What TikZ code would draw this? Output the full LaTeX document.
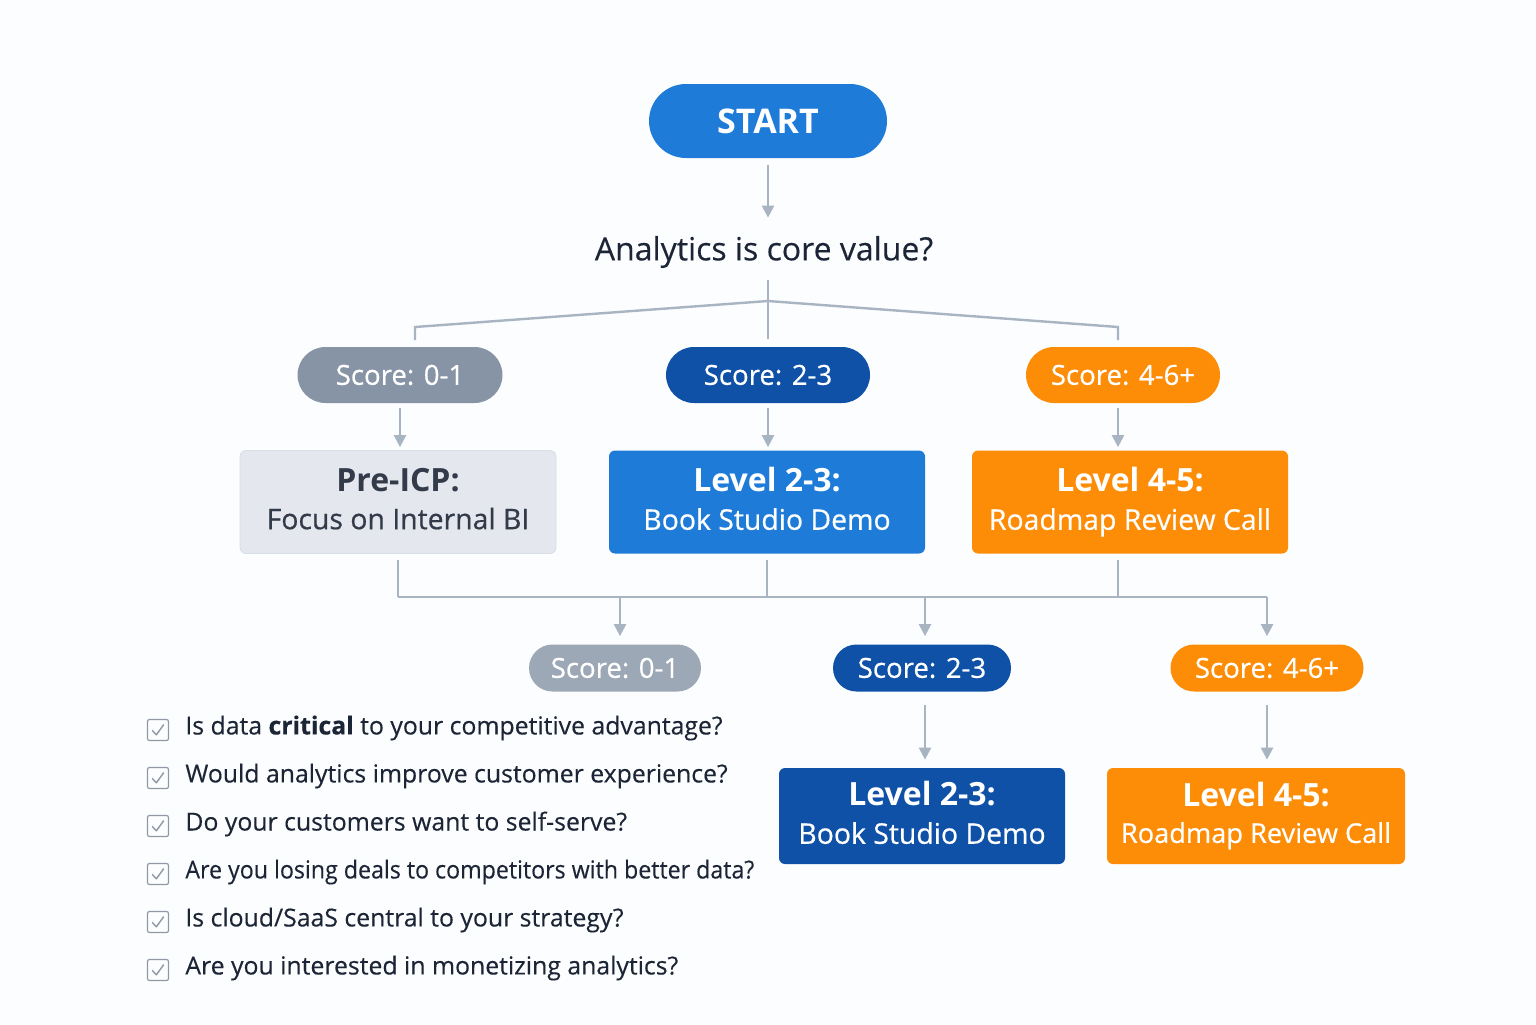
\documentclass[tikz,border=0pt]{standalone}
\usepackage{fontspec}
\setmainfont{Open Sans}
\newfontfamily\medfont[FakeBold=0.6]{Open Sans}
\newfontfamily\lightmed[FakeBold=0.3]{Open Sans}
\usetikzlibrary{arrows.meta,positioning,calc}

\definecolor{ink}{HTML}{1C2536}
\definecolor{bgc}{HTML}{FCFDFE}
\definecolor{lnc}{HTML}{A9B4C2}
\definecolor{bluec}{HTML}{1E7BD8}
\definecolor{navyc}{HTML}{0E51A7}
\definecolor{orgc}{HTML}{FD8C06}
\definecolor{grayc}{HTML}{8694A6}
\definecolor{lgrayc}{HTML}{9DA8B7}
\definecolor{palec}{HTML}{E4E8EE}
\definecolor{chkc}{HTML}{8E98A6}
\newcommand\hdfont{\fontsize{16}{19}\selectfont\bfseries}
\newcommand\subl[1]{\medfont #1\vphantom{gp}}

\begin{document}
\begin{tikzpicture}[x=0.5pt, y=-0.5pt, >={Triangle[length=6pt,width=6pt]},
    ln/.style={draw=lnc, line width=1.2pt},
    pill/.style={rounded corners=14pt, minimum height=28pt, text=white, inner sep=0pt,
      font=\fontsize{13.8}{16}\medfont},
    spill/.style={pill, rounded corners=11.75pt, minimum height=23.5pt},
    b/.style={rounded corners=3pt, align=center, minimum height=51.5pt, minimum width=158pt,
      inner sep=0pt, text=white, font=\fontsize{14.2}{19}\selectfont},
    chk/.style={draw=chkc, line width=0.6pt, rounded corners=1pt, minimum size=10.5pt, inner sep=0pt},
    item/.style={anchor=west, text=ink, inner sep=0pt, font=\fontsize{12.4}{14}\lightmed}]
  \useasboundingbox[fill=bgc] (0,0) rectangle (1536,1024);

  % start and question
  \node[pill, fill=bluec, minimum width=119pt, minimum height=37pt, rounded corners=18.5pt,
    font=\fontsize{17}{20}\selectfont\bfseries] (start) at (768,121) {START};
  \node[text=ink, font=\fontsize{16}{19}\lightmed, inner sep=0pt] (q) at (764,252) {Analytics is core value?};
  \draw[ln, ->, shorten <=3.5pt, shorten >=9pt] (start) -- (start |- q.north);

  % first scores
  \node[pill, fill=grayc, minimum width=102.5pt] (s1) at (400,375) {Score: 0-1};
  \node[pill, fill=navyc, minimum width=102pt] (s2) at (768,375) {Score: 2-3};
  \node[pill, fill=orgc, minimum width=97pt] (s3) at (1123,375) {Score: 4-6+};

  \coordinate (j0) at (768,301);
  \coordinate (jl) at (415,327);
  \coordinate (jr) at (1118,327);
  \draw[ln, shorten <=6pt, shorten >=4pt] (s2 |- q.south) -- (s2);
  \draw[ln] (j0) -- (jl) -- ++(0,13);
  \draw[ln] (j0) -- (jr) -- ++(0,13);

  % level boxes
  \node[b, fill=palec, draw=palec!80!lnc, text=ink!90] (b1) at (398,502)
    {{\hdfont Pre-ICP:}\\\subl{Focus on Internal BI}};
  \node[b, fill=bluec] (b2) at (767,502) {{\hdfont Level 2-3:}\\\subl{Book Studio Demo}};
  \node[b, fill=orgc] (b3) at (1130,502) {{\hdfont Level 4-5:}\\\subl{Roadmap Review Call}};
  \draw[ln, ->, shorten <=2.5pt, shorten >=1.5pt] (s1.south) -- (s1.south |- b1.north);
  \draw[ln, ->, shorten <=2.5pt, shorten >=1.5pt] (s2.south) -- (s2.south |- b2.north);
  \draw[ln, ->, shorten <=2.5pt, shorten >=1.5pt] ([xshift=-2.5pt]s3.south) -- ([xshift=-2.5pt]s3.south |- b3.north);

  % second scores
  \node[spill, fill=lgrayc, minimum width=86pt] (t1) at (615,668) {Score: 0-1};
  \node[spill, fill=navyc, minimum width=89pt] (t2) at (922,668) {Score: 2-3};
  \node[spill, fill=orgc, minimum width=96.5pt] (t3) at (1267,668) {Score: 4-6+};

  \coordinate (bus) at (399,597);
  \coordinate (busr) at (1267,597);
  \draw[ln] (b1.south |- bus) -- (busr);
  \foreach \n in {b1,b2} \draw[ln, shorten <=3pt] (\n.south) -- (\n.south |- bus);
  \draw[ln, shorten <=3pt] ([xshift=-6pt]b3.south) -- ([xshift=-6pt]b3.south |- bus);
  \draw[ln, ->, shorten >=4pt] ([xshift=2.5pt]t1.north |- bus) -- ([xshift=2.5pt]t1.north);
  \draw[ln, ->, shorten >=4pt] ([xshift=1.5pt]t2.north |- bus) -- ([xshift=1.5pt]t2.north);
  \draw[ln, ->, shorten >=4pt] (busr) -- (t3.north);

  % final boxes
  \node[b, fill=navyc, minimum width=143pt, minimum height=48pt] (c2) at (922,816)
    {{\hdfont Level 2-3:}\\\subl{Book Studio Demo}};
  \node[b, fill=orgc, minimum width=149pt, minimum height=48pt, font=\fontsize{13.6}{18}\selectfont] (c3) at (1256,816)
    {{\hdfont Level 4-5:}\\\subl{Roadmap Review Call}};
  \draw[ln, ->, shorten <=6.5pt, shorten >=4pt] ([xshift=1.5pt]t2.south) -- ([xshift=1.5pt]t2.south |- c2.north);
  \draw[ln, ->, shorten <=6.5pt, shorten >=4pt] (t3.south) -- (t3.south |- c3.north);

  % checklist
  \foreach \t [count=\i] in {{Is data \textbf{critical} to your competitive advantage?},
      {Would analytics improve customer experience?},
      {Do your customers want to self-serve?},
      {\scalebox{0.935}[1]{Are you losing deals to competitors with better data?}},
      {Is cloud/SaaS central to your strategy?},
      {Are you interested in monetizing analytics?}} {
    \node[chk] (chk\i) at (158,{730+48*(\i-1)}) {};
    \draw[chkc, line width=0.7pt, line cap=round, line join=round]
      ([shift={(-2.8pt,-0.3pt)}]chk\i.center) -- ([shift={(-0.8pt,-2.4pt)}]chk\i.center)
      -- ([shift={(2.8pt,2.6pt)}]chk\i.center);
    \node[item] (item\i) at (185,{728+48*(\i-1)}) {\t};
  }
\end{tikzpicture}
\end{document}
